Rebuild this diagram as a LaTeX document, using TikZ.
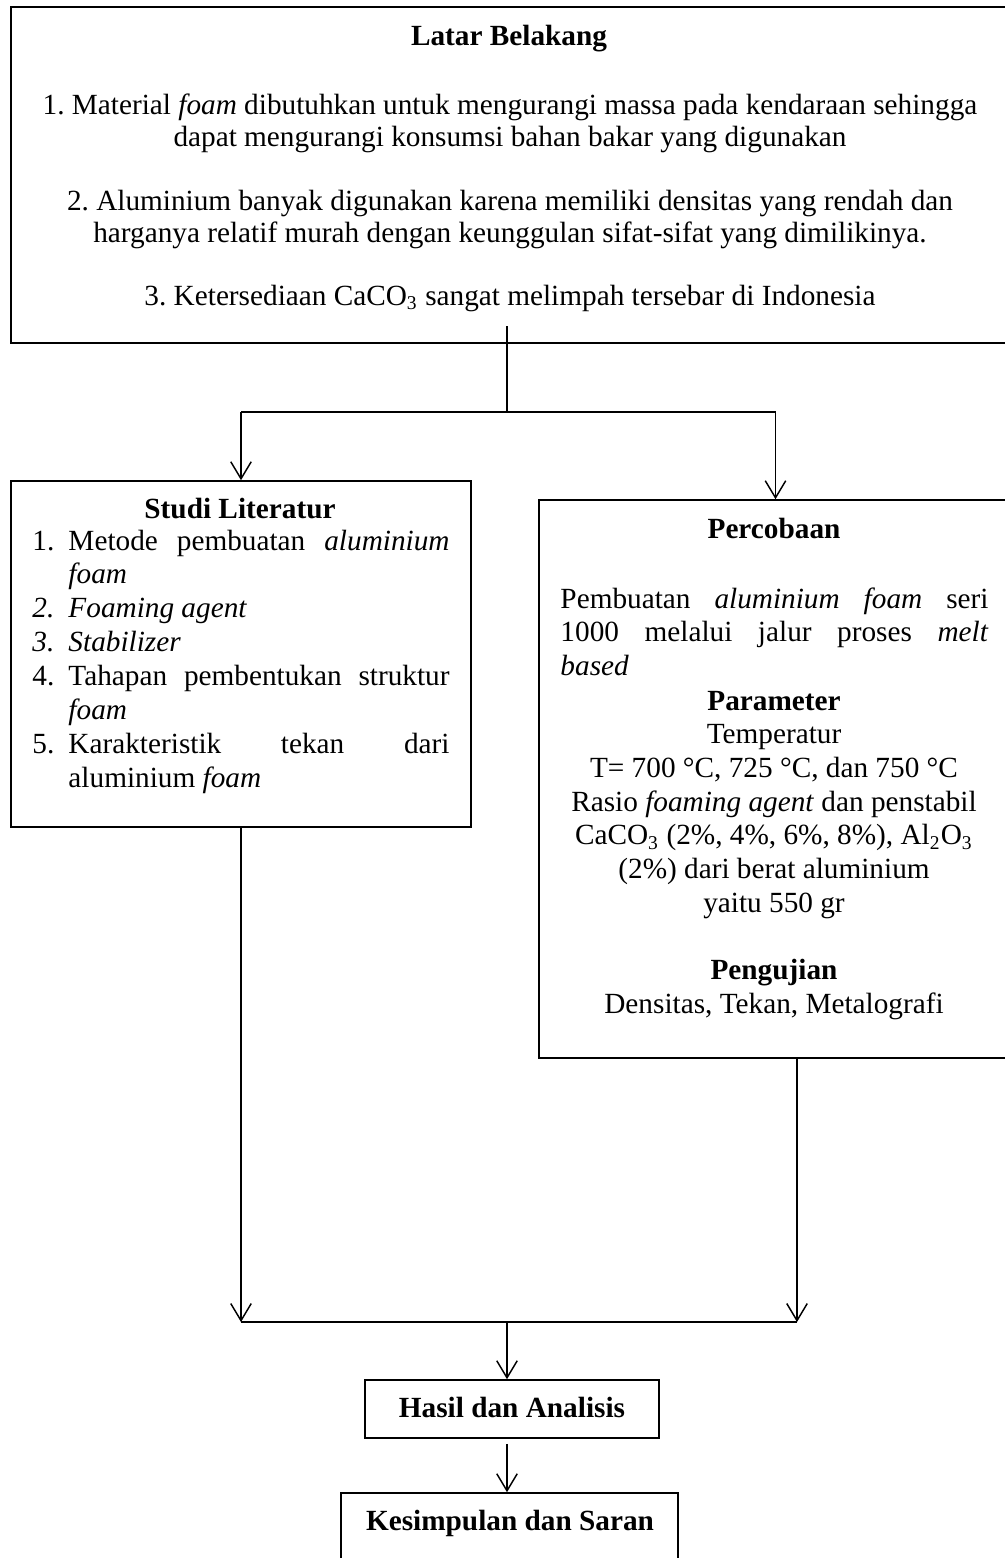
\documentclass[tikz,border=0pt]{standalone}
\usepackage{fontspec}
\setmainfont{Liberation Serif}
\usetikzlibrary{arrows.meta}
\usetikzlibrary{fit}
\frenchspacing

\newcommand{\litem}[2]{\noindent\hangindent=14.76pt\hangafter=1\makebox[14.76pt][l]{#1}#2\par}

\begin{document}
\begin{tikzpicture}[x=0.41pt, y=-0.41pt,
        font=\fontsize{12pt}{13.9pt}\selectfont,
        box/.style={draw, line width=0.65pt, inner sep=0pt},
        txt/.style={inner sep=0pt, anchor=base},
        link/.style={line width=0.6pt},
        arr/.style={line width=0.6pt, -{Straight Barb[length=7pt, width=8.4pt]}}]%
        \useasboundingbox (0,0) rectangle (1005,1558);
        \node [box, line width=0.9pt, fit={(11,7) (1010,343)}] (latar) {};
        \node [box, fit={(11,481) (471,827)}] (studi) {};
        \node [box, fit={(539,500) (1012,1058)}] (percob) {};
        \node [box, fit={(365,1380) (659,1438)}] (hasil) {};
        \node [box, fit={(341,1493) (678,1570)}] (kesim) {};
        \node [txt] (latartitle) at (509,45) {\textbf{Latar Belakang}};
        % multi-line centred blocks sit on their last baseline
        \node [txt, align=center, font=\fontsize{12pt}{13.1pt}\selectfont] (latarlist) at (510,305) {1. Material \textit{foam} dibutuhkan untuk mengurangi massa pada kendaraan sehingga\\ dapat mengurangi konsumsi bahan bakar yang digunakan\\[13.3pt] 2. Aluminium banyak digunakan karena memiliki densitas yang rendah dan\\ harganya relatif murah dengan keunggulan sifat-sifat yang dimilikinya.\\[12.4pt] 3. Ketersediaan CaCO\textsubscript{3} sangat melimpah tersebar di Indonesia};
        \node [txt] (studititle) at (240,518) {\textbf{Studi Literatur}};
        \node [txt, anchor=base west, text width=171pt, align=justify] (studilist) at (32,550) {\hyphenpenalty=10000
            \litem{1.}{Metode pembuatan \textit{aluminium}\linebreak \textit{foam}}
            \litem{\textit{2.}}{\textit{Foaming agent}}
            \litem{\textit{3.}}{\textit{Stabilizer}}
            \litem{4.}{Tahapan pembentukan struktur\linebreak \textit{foam}}
            \litem{5.}{Karakteristik tekan dari\linebreak aluminium \textit{foam}}};
        \node [txt] (percobtitle) at (774,538) {\textbf{Percobaan}};
        \node [txt, anchor=base west, text width=175.5pt, align=justify] (percobpar) at (560,608) {\hyphenpenalty=10000 Pembuatan \textit{aluminium foam} seri\linebreak 1000 melalui jalur proses \textit{melt}\linebreak \textit{based}};
        \node [txt, align=center, font=\fontsize{12pt}{13.8pt}\selectfont] (param) at (774,1013) {\textbf{Parameter}\\ Temperatur\\ T= 700 °C, 725 °C, dan 750 °C\\ Rasio \textit{foaming agent} dan penstabil\\ CaCO\textsubscript{3} (2\%, 4\%, 6\%, 8\%), Al\textsubscript{2}O\textsubscript{3}\\ (2\%) dari berat aluminium\\ yaitu 550 gr\\[13.8pt] \textbf{Pengujian}\\ Densitas, Tekan, Metalografi};
        \node [txt] (hasiltext) at (512,1417) {\textbf{Hasil dan Analisis}};
        \node [txt] (kesimtext) at (510,1530) {\textbf{Kesimpulan dan Saran}};
        \coordinate (split) at (507,412);
        \coordinate (merge) at (507,1322);
        \coordinate (rjoin) at (797,1322);
        \draw [link] (split |- latar.south) ++(0,-18) -- (split);
        \draw [link] (studi.north |- split) -- (percob.north |- split);
        \draw [arr] (studi.north |- split) -- (studi.north);
        \draw [arr] (percob.north |- split) -- (percob.north);
        \draw [arr] (studi.south) -- (studi.south |- merge);
        \draw [arr] (rjoin |- percob.south) -- (rjoin);
        \draw [link] (studi.south |- merge) -- (rjoin);
        \draw [arr] (merge) -- (merge |- hasil.north);
        \draw [arr] (merge |- hasil.south) ++(0,5) -- (merge |- kesim.north);
\end{tikzpicture}
\end{document}
